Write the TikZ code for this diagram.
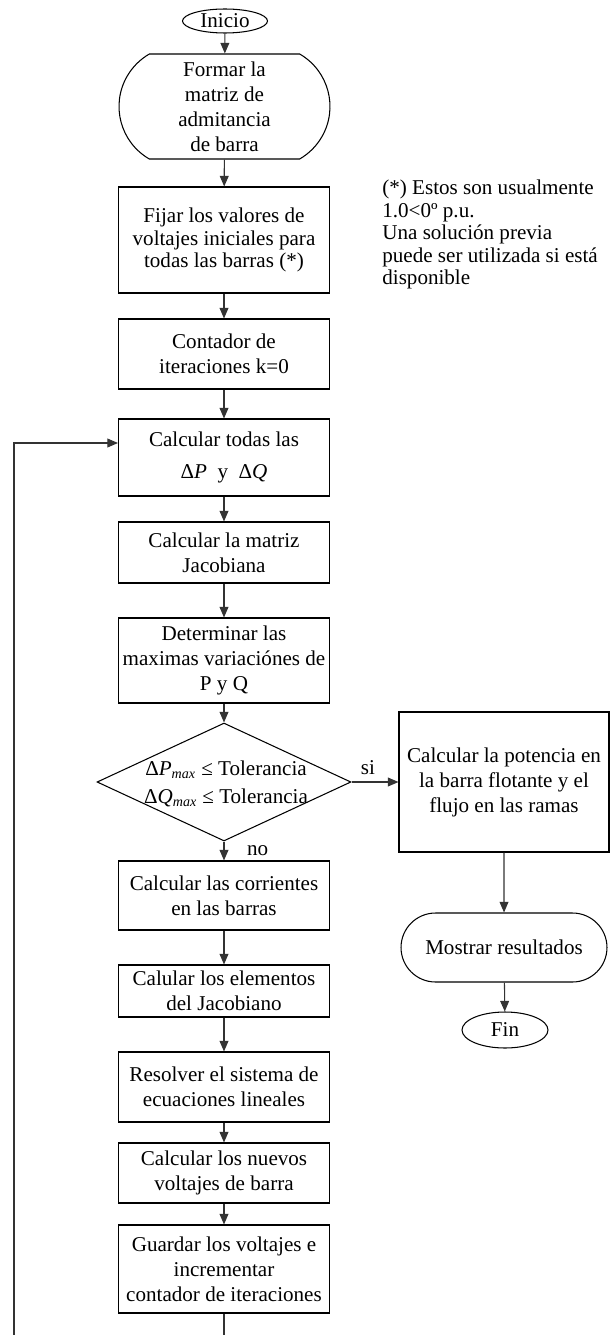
\documentclass[tikz,border=0pt]{standalone}
\usepackage{fontspec}
\setmainfont{Liberation Serif}
\usetikzlibrary{shapes.geometric, shapes.misc, arrows.meta}

\begin{document}
\begin{tikzpicture}[x=0.02cm, y=-0.02cm,
    every node/.style={font=\fontsize{12}{14.2}\selectfont, align=center, inner sep=0pt},
    caja/.style={draw, line width=0.6pt, minimum width=4.22cm},
    terminal/.style={draw, line width=0.6pt, ellipse},
    redondo/.style={draw, line width=0.6pt, rounded rectangle},
    flecha/.style={draw=black!80, line width=0.6pt, -{Triangle[length=6pt, width=5pt]}}]
    \useasboundingbox (0,0) rectangle (610,1335);
    \clip (0,0) rectangle (610,1335);

    % Main column
    \node[terminal, minimum width=1.7cm, minimum height=0.48cm] (inicio) at (225,21) {Inicio};
    \node[redondo, rounded rectangle arc length=120, minimum width=4.22cm, minimum height=2.1cm] (formar) at (224.5,106.5) {Formar la\\matriz de\\admitancia\\de barra};
    \node[caja, minimum height=2.12cm, font=\fontsize{12}{12.6}\selectfont] (fijar) at (224,240) {Fijar los valores de\\voltajes iniciales para\\todas las barras (*)};
    \node[caja, minimum height=1.4cm] (contador) at (224,354) {Contador de\\iteraciones k=0};
    \node[caja, minimum height=1.54cm] (delta) at (224,457.5) {Calcular todas las\\[4pt]Δ\textit{P}\ \ y\ \ Δ\textit{Q}};
    \node[caja, minimum height=1.22cm] (jacob) at (224,552.5) {Calcular la matriz\\Jacobiana};
    \node[caja, minimum height=1.7cm] (maximos) at (224,660.5) {Determinar las\\maximas variaciónes de\\P y Q};

    % Decision
    \node[diamond, draw, line width=0.6pt, minimum width=5.08cm, minimum height=2.36cm] (cond) at (224,782) {};
    \node[font=\fontsize{12}{16}\selectfont] (tol) at (226,784) {Δ\textit{P}\textsubscript{\textit{max}} ≤ Tolerancia\\Δ\textit{Q}\textsubscript{\textit{max}} ≤ Tolerancia};

    % Iteration steps
    \node[caja, minimum height=1.38cm] (corrientes) at (224,895.5) {Calcular las corrientes\\en las barras};
    \node[caja, minimum height=1.04cm] (elementos) at (224,991) {Calular los elementos\\del Jacobiano};
    \node[caja, minimum height=1.4cm] (resolver) at (224,1087) {Resolver el sistema de\\ecuaciones lineales};
    \node[caja, minimum height=1.2cm] (nuevos) at (224,1173) {Calcular los nuevos\\voltajes de barra};
    \node[caja, minimum height=1.76cm] (guardar) at (224,1269) {Guardar los voltajes e\\incrementar\\contador de iteraciones};

    % Right branch
    \node[caja, minimum width=4.2cm, minimum height=2.8cm] (potencia) at (504,782) {Calcular la potencia en\\la barra flotante y el\\flujo en las ramas};
    \node[redondo, minimum width=4.12cm, minimum height=1.38cm] (mostrar) at (504,947.5) {Mostrar resultados};
    \node[terminal, minimum width=1.72cm, minimum height=0.72cm] (fin) at (505,1030) {Fin};

    % Note
    \node[anchor=north west, align=left, font=\fontsize{12}{12.8}\selectfont] (nota) at (382,180) {(*) Estos son usualmente\\1.0<0º p.u.\\Una solución previa\\puede ser utilizada si está\\disponible};

    % Connectors
    \draw[flecha] (inicio) -- (formar);
    \draw[flecha] (formar) -- (fijar);
    \draw[flecha] (fijar) -- (contador);
    \draw[flecha] (contador) -- (delta);
    \draw[flecha] (delta) -- (jacob);
    \draw[flecha] (jacob) -- (maximos);
    \draw[flecha] (maximos) -- (cond);
    \draw[flecha] (cond.south) -- node[right=0.45cm] {no} (corrientes);
    \draw[flecha] (cond.east) -- node[pos=0.35, above=4pt] {si} (potencia);
    \draw[flecha] (corrientes) -- (elementos);
    \draw[flecha] (elementos) -- (resolver);
    \draw[flecha] (resolver) -- (nuevos);
    \draw[flecha] (nuevos) -- (guardar);
    \draw[flecha] (potencia) -- (mostrar);
    \draw[flecha] (mostrar) -- (fin);

    % Loop back
    \coordinate (retorno) at (14,1345);
    \draw[flecha] (guardar.south) |- (retorno) |- ([yshift=0.29cm]delta.west);
\end{tikzpicture}
\end{document}
